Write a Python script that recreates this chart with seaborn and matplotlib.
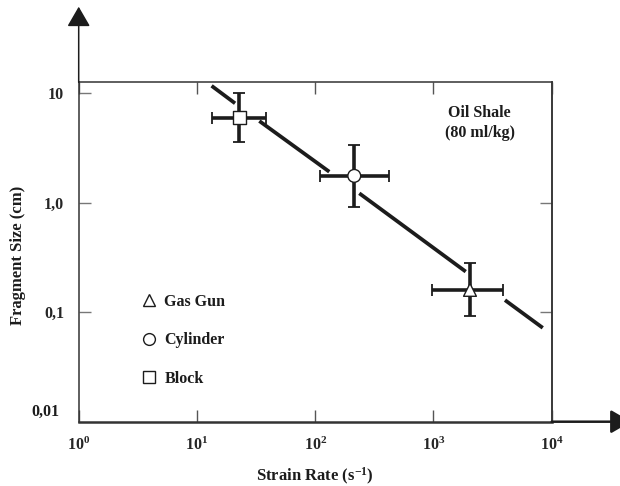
import numpy as np
import pandas as pd
import matplotlib
matplotlib.use("Agg")
import matplotlib.pyplot as plt
from matplotlib.lines import Line2D
import seaborn as sns

# --- data (log-log) ---
methods = ["Block", "Cylinder", "Gas Gun"]
strain_rate = [22.8, 214, 2037]
frag_size = [6.0, 1.76, 0.16]
rate_lo = [13.4, 110, 972]
rate_hi = [38.1, 419, 3900]
size_lo = [3.6, 0.92, 0.093]
size_hi = [10.0, 3.37, 0.28]
markers = {"Block": "s", "Cylinder": "o", "Gas Gun": "^"}

# fitted trend line, drawn in broken pieces around the points
fit_x = [[13.3, 21.0], [33.7, 131.6], [236, 1875], [4027, 8400]]
fit_y = [[11.7, 8.1], [5.58, 1.92], [1.22, 0.235], [0.129, 0.072]]

y_ticks = [10, 1, 0.1]
y_ticklabels = ["10", "1,0", "0,1"]
x_ticks = [1, 10, 100, 1000, 10000]
x_ticklabels = [r"$\mathbf{10^{%d}}$" % i for i in range(5)]

df = pd.DataFrame({"method": methods, "rate": strain_rate, "size": frag_size,
                   "rlo": rate_lo, "rhi": rate_hi, "slo": size_lo, "shi": size_hi})

sns.set_theme(style="white")
plt.rcParams["font.family"] = ["Liberation Serif", "DejaVu Serif"]
plt.rcParams["font.weight"] = "bold"
plt.rcParams["mathtext.fontset"] = "custom"
plt.rcParams["mathtext.rm"] = "Liberation Serif:bold"
plt.rcParams["mathtext.bf"] = "Liberation Serif:bold"
plt.rcParams["mathtext.it"] = "Liberation Serif:bold"

ink = "#1c1c1c"
fig = plt.figure(figsize=(6.2, 4.86), dpi=100)
ax = fig.add_axes([78.7 / 620, (486 - 421.7) / 486, 473 / 620, (421.7 - 82.3) / 486])
ax.set_xscale("log")
ax.set_yscale("log")
ax.set_xlim(1, 1e4)
ax.set_ylim(0.01, 12.6)

for xs, ys in zip(fit_x, fit_y):
    ax.plot(xs, ys, color=ink, lw=2.7, solid_capstyle="butt", zorder=2)

ax.errorbar(df["rate"], df["size"],
            xerr=[df["rate"] - df["rlo"], df["rhi"] - df["rate"]],
            yerr=[df["size"] - df["slo"], df["shi"] - df["size"]],
            fmt="none", ecolor=ink, elinewidth=2.6, capsize=4.3, capthick=1.3, zorder=3)

sns.scatterplot(data=df, x="rate", y="size", style="method", markers=markers,
                s=85, color="white", edgecolor=ink, linewidth=1.0, legend=False,
                ax=ax, zorder=4)
ax.set_xlabel("")
ax.set_ylabel("")

# spines
for side in ["top", "right", "left"]:
    ax.spines[side].set_color("#333333")
    ax.spines[side].set_linewidth(1.1)
ax.spines["bottom"].set_color("#333333")
ax.spines["bottom"].set_linewidth(1.8)

ax.set_xticks(x_ticks)
ax.set_xticklabels(x_ticklabels, fontsize=11.5)
ax.set_yticks(y_ticks)
ax.set_yticklabels(y_ticklabels, fontsize=11.5, fontweight="bold")
ax.minorticks_off()
ax.tick_params(axis="x", direction="in", length=8.6, width=1.0, color="#555555",
               top=True, bottom=True, pad=11)
ax.tick_params(axis="y", direction="in", length=8.6, width=1.0, color="#777777",
               left=True, right=False, pad=10.5)
sec = ax.secondary_yaxis("right")
sec.set_yticks([1, 0.1])
sec.set_yticklabels([])
sec.minorticks_off()
sec.tick_params(direction="in", length=8.6, width=1.0, color="#777777")
sec.spines["right"].set_color("#333333")
sec.spines["right"].set_linewidth(1.1)

ax.annotate("0,01", xy=(0, 0.01), xycoords=("axes fraction", "data"),
            xytext=(-13.5, 7.2), textcoords="offset points",
            ha="right", va="center", fontsize=11.5, fontweight="bold", color=ink)

fig.text(18 / 620, 1 - 255 / 486, "Fragment Size (cm)", rotation=90,
         ha="center", va="center", fontsize=12, fontweight="bold", color=ink)
fig.text(315 / 620, 1 - 476 / 486, r"Strain Rate (s$^{-1}$)",
         ha="center", va="center", fontsize=12, fontweight="bold", color=ink)

ax.text(0.848, 0.88, "Oil Shale\n(80 ml/kg)", transform=ax.transAxes,
        ha="center", va="center", fontsize=11.5, fontweight="bold",
        linespacing=1.4, color=ink)

# legend
handles = [Line2D([], [], ls="none", marker=markers[m], markersize=8.5,
                  markerfacecolor="white", markeredgecolor=ink, markeredgewidth=1.0)
           for m in ["Gas Gun", "Cylinder", "Block"]]
leg = ax.legend(handles, ["Gas Gun", "Cylinder", "Block"], loc="upper left",
                bbox_to_anchor=(0.105, 0.42), frameon=False, handlelength=0.8,
                handletextpad=0.55, labelspacing=1.42,
                prop={"size": 11.5, "weight": "bold"})
for t in leg.get_texts():
    t.set_color(ink)

# axis arrows
ax.annotate("", xy=(78.7, 486 - 6.7), xycoords="figure pixels",
            xytext=(78.7, 486 - 82.3), textcoords="figure pixels",
            arrowprops=dict(arrowstyle="-|>,head_length=0.95,head_width=0.55",
                            mutation_scale=13, lw=1.1, color=ink,
                            shrinkA=0, shrinkB=0), annotation_clip=False)
ax.annotate("", xy=(631, 486 - 421.7), xycoords="figure pixels",
            xytext=(551.7, 486 - 421.7), textcoords="figure pixels",
            arrowprops=dict(arrowstyle="-|>,head_length=0.95,head_width=0.55",
                            mutation_scale=13, lw=1.8, color="#888888",
                            fc=ink, ec=ink, shrinkA=0, shrinkB=0),
            annotation_clip=False)

fig.savefig("out.png", dpi=100)
